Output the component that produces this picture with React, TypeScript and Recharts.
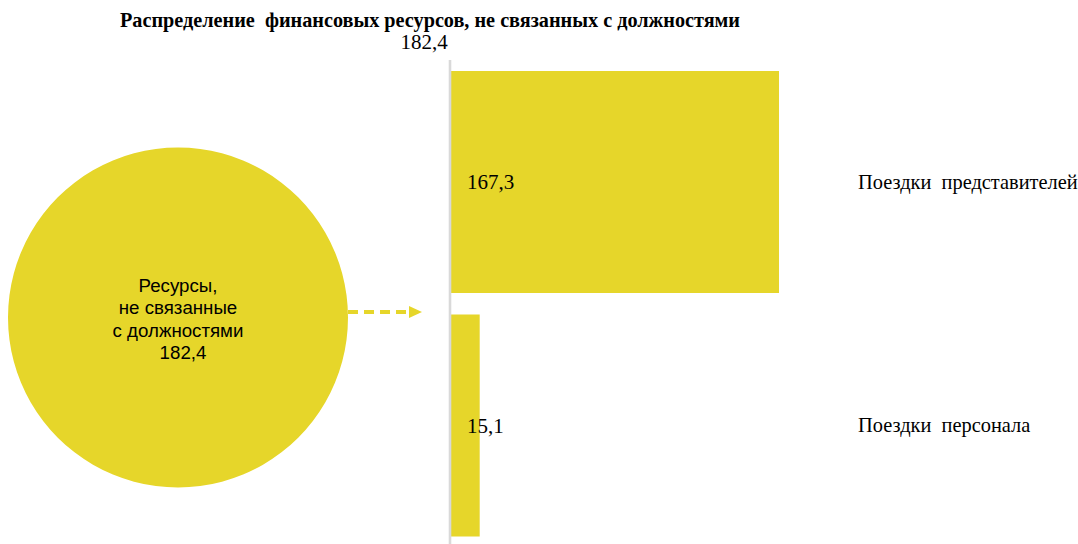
import React from 'react';
import { BarChart, Bar, XAxis, YAxis, LabelList, PieChart, Pie, Cell } from 'recharts';

const categories = ['Поездки\u00A0\u00A0представителей', 'Поездки\u00A0\u00A0персонала'];
const values = [167.3, 15.1];
const totalValue = 182.4;
const titleText = 'Распределение  финансовых ресурсов, не связанных с должностями';
const circleLines = ['Ресурсы,', 'не связанные', 'с должностями'];

const YELLOW = '#E6D62A';
const SERIF = '"Liberation Serif", "Times New Roman", serif';
const SANS = '"Liberation Sans", Arial, sans-serif';

const barData = categories.map((name, i) => ({ name, value: values[i] }));
const pieData = [{ name: 'total', value: totalValue }];

const fmt = (v: number) => v.toFixed(1).replace('.', ',');

export default function App() {
  return (
    <div style={{ position: 'absolute', left: 0, top: 0, width: 1078, height: 560, background: '#fff' }}>
      <div style={{ position: 'absolute', left: 0, top: 0 }}>
        <BarChart
          width={1078}
          height={560}
          data={barData}
          layout="vertical"
          margin={{ top: 60, right: 0, bottom: 13, left: 449 }}
          barCategoryGap="4.5%"
        >
          <XAxis type="number" domain={[0, 203.4]} hide />
          <YAxis
            yAxisId="left"
            type="category"
            dataKey="name"
            width={1}
            tick={false}
            tickLine={false}
            axisLine={{ stroke: '#d9d9d9', strokeWidth: 2.6 }}
          />
          <YAxis
            yAxisId="right"
            orientation="right"
            type="category"
            dataKey="name"
            width={228}
            tickSize={0}
            tickMargin={8}
            tickLine={false}
            axisLine={false}
            tick={{ fill: '#000', fontFamily: SERIF, fontSize: 20.4, textAnchor: 'start' }}
          />
          <Bar yAxisId="left" dataKey="value" fill={YELLOW} isAnimationActive={false}>
            <LabelList
              dataKey="value"
              position="insideLeft"
              offset={17}
              formatter={(v: any) => fmt(Number(v))}
              style={{ fill: '#000', fontFamily: SERIF, fontSize: 21 }}
            />
          </Bar>
        </BarChart>
      </div>
      <div style={{ position: 'absolute', left: 0, top: 0 }}>
        <PieChart width={440} height={544} margin={{ top: 0, right: 0, bottom: 0, left: 0 }}>
          <Pie
            data={pieData}
            dataKey="value"
            cx={178}
            cy={317.5}
            outerRadius={170}
            innerRadius={0}
            startAngle={90}
            endAngle={-270}
            stroke="none"
            isAnimationActive={false}
          >
            {pieData.map((d) => (
              <Cell key={d.name} fill={YELLOW} />
            ))}
          </Pie>
        </PieChart>
      </div>
      <svg
        width={1078}
        height={544}
        style={{ position: 'absolute', left: 0, top: 0, pointerEvents: 'none' }}
      >
        <text
          x={430}
          y={27}
          textAnchor="middle"
          fontFamily={SERIF}
          fontWeight="bold"
          fontSize={21}
          textLength={620}
          lengthAdjust="spacingAndGlyphs"
          fill="#000"
          style={{ whiteSpace: 'pre' }}
        >
          {titleText}
        </text>
        <text x={424} y={49} textAnchor="middle" fontFamily={SERIF} fontSize={21} fill="#000">
          {fmt(totalValue)}
        </text>
        {circleLines.map((t, i) => (
          <text key={t} x={178} y={291.5 + i * 22.5} textAnchor="middle" fontFamily={SANS} fontSize={18.7} fill="#000">
            {t}
          </text>
        ))}
        <text x={183} y={291.5 + 3 * 22.5} textAnchor="middle" fontFamily={SANS} fontSize={18.7} fill="#000">
          {fmt(totalValue)}
        </text>
        <line x1={348} y1={312} x2={410} y2={312} stroke={YELLOW} strokeWidth={4} strokeDasharray="10 6" />
        <polygon points="409,306 422,312 409,318" fill={YELLOW} />
      </svg>
    </div>
  );
}
